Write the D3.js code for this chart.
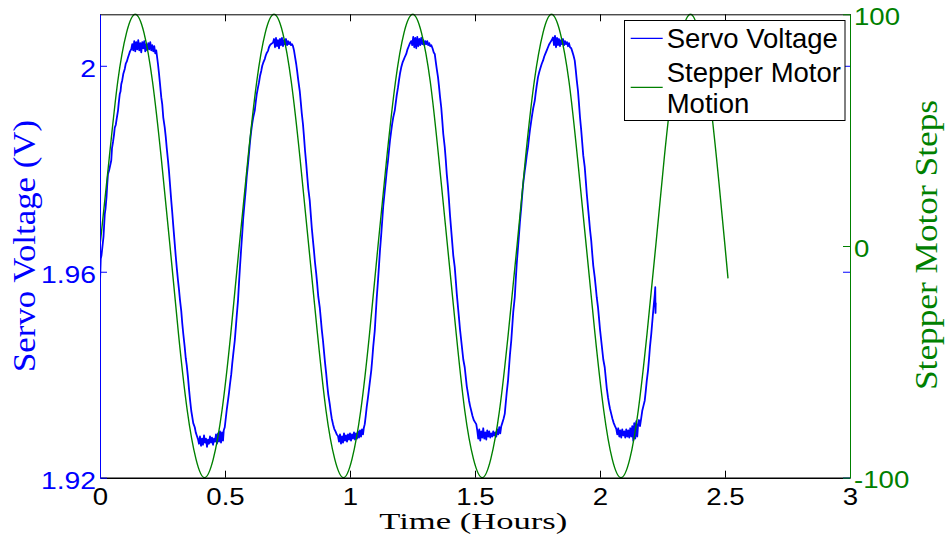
<!DOCTYPE html>
<html>
<head>
<meta charset="utf-8">
<script src="https://cdn.jsdelivr.net/npm/d3@7"></script>
<style>
  body { margin: 0; background: #fff; }
  svg { display: block; }
</style>
</head>
<body>
<div id="chart"></div>
<script>
var WIDTH = 946
var HEIGHT = 545

// axis ranges and ticks
var hoursDomain = [0, 3]
var voltDomain = [1.92, 2.01]
var stepDomain = [-100, 100]
var hourTicks = [0, 0.5, 1, 1.5, 2, 2.5, 3]
var voltTicks = [1.92, 1.96, 2]
var stepTicks = [-100, 0, 100]

var legendLabels = [["Servo Voltage"], ["Stepper Motor", "Motion"]]

// [hours, volts]
var servo = [
  [0, 1.9580], [0.003, 1.9625], [0.006, 1.9632], [0.010, 1.9650], [0.014, 1.9668], [0.019, 1.9712], [0.022, 1.9722],
  [0.026, 1.9745], [0.029, 1.9770], [0.032, 1.9790], [0.036, 1.9796], [0.040, 1.9805], [0.045, 1.9816], [0.048, 1.9840],
  [0.052, 1.9852], [0.056, 1.9866], [0.059, 1.9880], [0.063, 1.9885], [0.067, 1.9898], [0.072, 1.9913], [0.075, 1.9928],
  [0.079, 1.9945], [0.082, 1.9950], [0.085, 1.9964], [0.089, 1.9972], [0.093, 1.9984], [0.099, 1.9994], [0.103, 2.0004],
  [0.107, 2.0008], [0.112, 2.0016], [0.116, 2.0022], [0.120, 2.0028], [0.125, 2.0032],
  [0.129, 2.0042], [0.133, 2.0030], [0.137, 2.0048], [0.141, 2.0028], [0.145, 2.0046], [0.149, 2.0032], [0.153, 2.0050],
  [0.157, 2.0030], [0.161, 2.0044], [0.165, 2.0026], [0.169, 2.0046], [0.173, 2.0034], [0.177, 2.0048], [0.181, 2.0028],
  [0.185, 2.0042], [0.189, 2.0030], [0.193, 2.0044], [0.197, 2.0032], [0.201, 2.0046], [0.205, 2.0030], [0.209, 2.0040],
  [0.213, 2.0028], [0.217, 2.0038], [0.221, 2.0024], [0.225, 2.0030],
  [0.232, 2.0003], [0.236, 1.9985], [0.240, 1.9965], [0.245, 1.9939], [0.249, 1.9925], [0.253, 1.9900], [0.259, 1.9880],
  [0.263, 1.9862], [0.267, 1.9840], [0.272, 1.9816], [0.276, 1.9795], [0.280, 1.9770], [0.285, 1.9738], [0.289, 1.9715],
  [0.293, 1.9690], [0.299, 1.9654], [0.303, 1.9630], [0.307, 1.9608], [0.312, 1.9583], [0.316, 1.9565], [0.320, 1.9545],
  [0.325, 1.9524], [0.329, 1.9500], [0.333, 1.9480], [0.339, 1.9453], [0.343, 1.9432], [0.347, 1.9418], [0.352, 1.9395],
  [0.356, 1.9372], [0.360, 1.9352], [0.365, 1.9330], [0.369, 1.9318], [0.373, 1.9306], [0.379, 1.9298], [0.383, 1.9288],
  [0.387, 1.9282], [0.392, 1.9275],
  [0.396, 1.9266], [0.400, 1.9280], [0.404, 1.9262], [0.408, 1.9276], [0.412, 1.9264], [0.416, 1.9282], [0.420, 1.9268],
  [0.424, 1.9276], [0.428, 1.9260], [0.432, 1.9274], [0.436, 1.9266], [0.440, 1.9280], [0.444, 1.9268], [0.448, 1.9278],
  [0.452, 1.9264], [0.456, 1.9276], [0.460, 1.9270], [0.464, 1.9284], [0.468, 1.9266], [0.472, 1.9286], [0.476, 1.9270],
  [0.480, 1.9290], [0.484, 1.9268], [0.488, 1.9288], [0.492, 1.9272], [0.495, 1.9292],
  [0.499, 1.9298], [0.503, 1.9315], [0.507, 1.9332], [0.512, 1.9350], [0.516, 1.9365], [0.520, 1.9382], [0.525, 1.9401],
  [0.529, 1.9422], [0.533, 1.9440], [0.539, 1.9466], [0.543, 1.9490], [0.547, 1.9515], [0.552, 1.9544], [0.556, 1.9578],
  [0.560, 1.9610], [0.565, 1.9647], [0.569, 1.9675], [0.573, 1.9705], [0.579, 1.9738], [0.583, 1.9760], [0.587, 1.9785],
  [0.592, 1.9809], [0.596, 1.9830], [0.600, 1.9852], [0.605, 1.9874], [0.609, 1.9888], [0.613, 1.9900], [0.619, 1.9913],
  [0.623, 1.9930], [0.627, 1.9945], [0.632, 1.9958], [0.636, 1.9968], [0.640, 1.9980], [0.645, 1.9990], [0.649, 2.0000],
  [0.653, 2.0006], [0.659, 2.0013], [0.663, 2.0020], [0.667, 2.0025], [0.672, 2.0029], [0.676, 2.0036], [0.680, 2.0040],
  [0.686, 2.0043], [0.692, 2.0045],
  [0.696, 2.0052], [0.700, 2.0036], [0.704, 2.0054], [0.708, 2.0038], [0.712, 2.0050], [0.716, 2.0034], [0.720, 2.0052],
  [0.724, 2.0040], [0.728, 2.0054], [0.732, 2.0038], [0.736, 2.0050], [0.740, 2.0042], [0.744, 2.0052], [0.748, 2.0040],
  [0.752, 2.0048], [0.756, 2.0042], [0.760, 2.0046], [0.764, 2.0040], [0.768, 2.0042], [0.772, 2.0038],
  [0.776, 2.0030], [0.780, 2.0018], [0.785, 2.0003], [0.789, 1.9988], [0.793, 1.9972], [0.799, 1.9951], [0.803, 1.9930],
  [0.807, 1.9908], [0.812, 1.9886], [0.816, 1.9862], [0.820, 1.9836], [0.825, 1.9809], [0.829, 1.9785], [0.833, 1.9762],
  [0.839, 1.9738], [0.843, 1.9712], [0.847, 1.9686], [0.852, 1.9660], [0.856, 1.9640], [0.860, 1.9618], [0.865, 1.9596],
  [0.869, 1.9575], [0.873, 1.9552], [0.879, 1.9531], [0.883, 1.9510], [0.887, 1.9488], [0.892, 1.9466], [0.896, 1.9445],
  [0.900, 1.9424], [0.905, 1.9401], [0.909, 1.9380], [0.913, 1.9362], [0.919, 1.9343], [0.923, 1.9328], [0.927, 1.9315],
  [0.932, 1.9304], [0.937, 1.9295], [0.942, 1.9290], [0.947, 1.9284], [0.952, 1.9281],
  [0.956, 1.9270], [0.960, 1.9284], [0.964, 1.9266], [0.968, 1.9280], [0.972, 1.9268], [0.976, 1.9286], [0.980, 1.9272],
  [0.984, 1.9282], [0.988, 1.9270], [0.992, 1.9284], [0.996, 1.9274], [1.000, 1.9286], [1.004, 1.9272], [1.008, 1.9284],
  [1.012, 1.9276], [1.016, 1.9288], [1.020, 1.9274], [1.024, 1.9286], [1.028, 1.9276], [1.032, 1.9290], [1.036, 1.9278],
  [1.040, 1.9292], [1.044, 1.9280], [1.048, 1.9294], [1.052, 1.9284], [1.055, 1.9296],
  [1.059, 1.9304], [1.063, 1.9320], [1.067, 1.9338], [1.072, 1.9356], [1.076, 1.9372], [1.080, 1.9388], [1.085, 1.9408],
  [1.089, 1.9430], [1.093, 1.9455], [1.099, 1.9485], [1.103, 1.9518], [1.107, 1.9550], [1.112, 1.9583], [1.116, 1.9612],
  [1.120, 1.9642], [1.125, 1.9673], [1.129, 1.9700], [1.133, 1.9728], [1.139, 1.9757], [1.143, 1.9776], [1.147, 1.9796],
  [1.152, 1.9816], [1.156, 1.9836], [1.160, 1.9855], [1.165, 1.9874], [1.169, 1.9888], [1.173, 1.9900], [1.179, 1.9913],
  [1.183, 1.9928], [1.187, 1.9943], [1.192, 1.9958], [1.196, 1.9972], [1.200, 1.9985], [1.205, 1.9997], [1.210, 2.0006],
  [1.215, 2.0012], [1.220, 2.0018], [1.225, 2.0023], [1.230, 2.0032], [1.235, 2.0038], [1.240, 2.0044], [1.245, 2.0048],
  [1.249, 2.0040], [1.253, 2.0056], [1.257, 2.0036], [1.261, 2.0054], [1.265, 2.0034], [1.269, 2.0056], [1.273, 2.0038],
  [1.277, 2.0052], [1.281, 2.0040], [1.285, 2.0054], [1.289, 2.0042], [1.293, 2.0050], [1.297, 2.0040], [1.301, 2.0048],
  [1.305, 2.0042], [1.309, 2.0048], [1.313, 2.0040], [1.317, 2.0044], [1.321, 2.0038], [1.325, 2.0040], [1.330, 2.0034],
  [1.335, 2.0026], [1.339, 2.0023], [1.343, 2.0008], [1.347, 1.9994], [1.352, 1.9978], [1.356, 1.9960], [1.360, 1.9940],
  [1.365, 1.9919], [1.369, 1.9894], [1.373, 1.9868], [1.379, 1.9842], [1.383, 1.9818], [1.387, 1.9790], [1.392, 1.9764],
  [1.396, 1.9738], [1.400, 1.9710], [1.405, 1.9680], [1.409, 1.9656], [1.413, 1.9632], [1.419, 1.9609], [1.423, 1.9584],
  [1.427, 1.9558], [1.432, 1.9531], [1.436, 1.9510], [1.440, 1.9488], [1.445, 1.9466], [1.449, 1.9448], [1.453, 1.9430],
  [1.459, 1.9414], [1.463, 1.9396], [1.467, 1.9378], [1.472, 1.9363], [1.476, 1.9350], [1.480, 1.9340], [1.485, 1.9330],
  [1.490, 1.9320], [1.495, 1.9312], [1.500, 1.9308], [1.505, 1.9304],
  [1.509, 1.9292], [1.513, 1.9276], [1.517, 1.9294], [1.521, 1.9272], [1.525, 1.9290], [1.529, 1.9278], [1.533, 1.9296],
  [1.537, 1.9276], [1.541, 1.9288], [1.545, 1.9274], [1.549, 1.9292], [1.553, 1.9280], [1.557, 1.9290], [1.561, 1.9278],
  [1.565, 1.9286], [1.569, 1.9280], [1.573, 1.9290], [1.577, 1.9282], [1.581, 1.9288], [1.585, 1.9280], [1.589, 1.9294],
  [1.593, 1.9284], [1.597, 1.9298], [1.601, 1.9286], [1.605, 1.9300],
  [1.609, 1.9306], [1.614, 1.9314], [1.619, 1.9324], [1.623, 1.9345], [1.627, 1.9366], [1.632, 1.9388], [1.636, 1.9414],
  [1.640, 1.9440], [1.645, 1.9466], [1.649, 1.9494], [1.653, 1.9522], [1.659, 1.9550], [1.663, 1.9584], [1.667, 1.9616],
  [1.672, 1.9647], [1.676, 1.9672], [1.680, 1.9698], [1.685, 1.9725], [1.689, 1.9750], [1.693, 1.9772], [1.699, 1.9796],
  [1.703, 1.9810], [1.707, 1.9826], [1.712, 1.9842], [1.716, 1.9860], [1.720, 1.9876], [1.725, 1.9893], [1.729, 1.9906],
  [1.733, 1.9918], [1.739, 1.9932], [1.743, 1.9948], [1.747, 1.9962], [1.752, 1.9978], [1.757, 1.9988], [1.762, 1.9996],
  [1.767, 2.0004], [1.772, 2.0010], [1.777, 2.0018], [1.782, 2.0024], [1.787, 2.0030], [1.792, 2.0036], [1.797, 2.0042],
  [1.802, 2.0046], [1.807, 2.0050], [1.812, 2.0055],
  [1.816, 2.0040], [1.820, 2.0058], [1.824, 2.0036], [1.828, 2.0054], [1.832, 2.0040], [1.836, 2.0052], [1.840, 2.0038],
  [1.844, 2.0050], [1.848, 2.0042], [1.852, 2.0052], [1.856, 2.0040], [1.860, 2.0048], [1.864, 2.0042], [1.868, 2.0046],
  [1.872, 2.0038], [1.876, 2.0044], [1.880, 2.0036], [1.885, 2.0034],
  [1.889, 2.0028], [1.894, 2.0020], [1.899, 2.0010], [1.903, 1.9992], [1.907, 1.9972], [1.912, 1.9951], [1.916, 1.9926],
  [1.920, 1.9900], [1.925, 1.9874], [1.929, 1.9850], [1.933, 1.9826], [1.939, 1.9803], [1.943, 1.9778], [1.947, 1.9752],
  [1.952, 1.9725], [1.956, 1.9704], [1.960, 1.9682], [1.965, 1.9660], [1.969, 1.9635], [1.973, 1.9612], [1.979, 1.9589],
  [1.983, 1.9570], [1.987, 1.9550], [1.992, 1.9531], [1.996, 1.9510], [2.000, 1.9488], [2.005, 1.9466], [2.009, 1.9448],
  [2.013, 1.9430], [2.019, 1.9414], [2.023, 1.9394], [2.027, 1.9374], [2.032, 1.9356], [2.036, 1.9344], [2.040, 1.9334],
  [2.045, 1.9324], [2.050, 1.9314], [2.055, 1.9306], [2.060, 1.9300], [2.065, 1.9295],
  [2.069, 1.9284], [2.073, 1.9296], [2.077, 1.9280], [2.081, 1.9292], [2.085, 1.9278], [2.089, 1.9294], [2.093, 1.9282],
  [2.097, 1.9290], [2.101, 1.9278], [2.105, 1.9294], [2.109, 1.9280], [2.113, 1.9292], [2.117, 1.9278], [2.121, 1.9296],
  [2.125, 1.9280], [2.129, 1.9300], [2.133, 1.9272], [2.137, 1.9306], [2.141, 1.9276], [2.145, 1.9310], [2.149, 1.9280],
  [2.152, 1.9300],
  [2.156, 1.9312], [2.160, 1.9300], [2.165, 1.9316], [2.169, 1.9330], [2.174, 1.9340], [2.179, 1.9350], [2.183, 1.9368],
  [2.187, 1.9388], [2.192, 1.9408], [2.196, 1.9430], [2.200, 1.9455], [2.205, 1.9479], [2.209, 1.9502], [2.214, 1.9530],
  [2.219, 1.9555], [2.221, 1.9570], [2.222, 1.9520], [2.223, 1.9540]
]

// [hours, steps]
var stepper = [
  [0, 0], [0.037, 38], [0.071, 71], [0.106, 92], [0.141, 100], [0.176, 92], [0.210, 71], [0.245, 38],
  [0.280, 0], [0.314, -38], [0.349, -71], [0.384, -92], [0.418, -100], [0.453, -92], [0.488, -71], [0.523, -38],
  [0.557, 0], [0.592, 38], [0.627, 71], [0.661, 92], [0.696, 100], [0.731, 92], [0.765, 71], [0.800, 38],
  [0.835, 0], [0.870, -38], [0.904, -71], [0.939, -92], [0.974, -100], [1.008, -92], [1.043, -71], [1.078, -38],
  [1.112, 0], [1.147, 38], [1.182, 71], [1.216, 92], [1.251, 100], [1.286, 92], [1.321, 71], [1.355, 38],
  [1.390, 0], [1.425, -38], [1.459, -71], [1.494, -92], [1.529, -100], [1.563, -92], [1.598, -71], [1.633, -38],
  [1.668, 0], [1.702, 38], [1.737, 71], [1.772, 92], [1.806, 100], [1.841, 92], [1.876, 71], [1.910, 38],
  [1.945, 0], [1.980, -38], [2.015, -71], [2.049, -92], [2.084, -100], [2.119, -92], [2.153, -71], [2.188, -38],
  [2.223, 0], [2.257, 38], [2.292, 71], [2.327, 92], [2.362, 100], [2.396, 92], [2.431, 71], [2.466, 38],
  [2.500, 0], [2.512, -14]
]

var BLUE = "#0000ff"
var GREEN = "#008000"
var plotLeft = 100, plotRight = 850, plotTop = 14.3, plotBottom = 477.7
var sans = "'Liberation Sans', Arial, sans-serif"
var serif = "'Liberation Serif', 'Times New Roman', serif"

var svg = d3.select("#chart").append("svg")
    .attr("width", WIDTH)
    .attr("height", HEIGHT)

svg.append("rect").attr("width", WIDTH).attr("height", HEIGHT).attr("fill", "#fff")

var x = d3.scaleLinear().domain(hoursDomain).range([plotLeft, plotRight])
var yV = d3.scaleLinear().domain(voltDomain).range([plotBottom, plotTop])
var yS = d3.scaleLinear().domain(stepDomain).range([plotBottom, plotTop])

svg.append("clipPath").attr("id", "plot")
  .append("rect").attr("x", plotLeft).attr("y", plotTop - 1)
  .attr("width", plotRight - plotLeft).attr("height", plotBottom - plotTop + 2)

var servoLine = d3.line()
    .x(function(d){ return x(d[0]) })
    .y(function(d){ return yV(d[1]) })

var stepLine = d3.line()
    .x(function(d){ return x(d[0]) })
    .y(function(d){ return yS(d[1]) })
    .curve(d3.curveNatural)

svg.append("path").datum(servo)
    .attr("d", servoLine)
    .attr("fill", "none").attr("stroke", BLUE).attr("stroke-width", 1.8)
    .attr("stroke-linejoin", "round")
    .attr("clip-path", "url(#plot)")

svg.append("path").datum(stepper)
    .attr("d", stepLine)
    .attr("fill", "none").attr("stroke", GREEN).attr("stroke-width", 1.4)
    .attr("clip-path", "url(#plot)")

// stretch tick labels a little wider, like the figure
function widen(sel, k){
    sel.selectAll("text").each(function(){
        var w = this.getComputedTextLength()
        d3.select(this).attr("textLength", w * k).attr("lengthAdjust", "spacingAndGlyphs")
    })
}

function styleAxis(g, color){
    g.attr("font-family", sans).attr("font-size", 24)
    g.selectAll("line").attr("stroke", color)
    g.selectAll("path.domain").attr("stroke", color)
    g.selectAll("text").attr("fill", color)
}

// top edge (ticks only)
var gTop = svg.append("g").attr("transform", "translate(0," + plotTop + ")")
    .call(d3.axisTop(x).tickValues(hourTicks).tickSize(-7).tickSizeOuter(0).tickFormat(""))
styleAxis(gTop, "#000")

// bottom axis
var gBottom = svg.append("g").attr("transform", "translate(0," + plotBottom + ")")
    .call(d3.axisBottom(x).tickValues(hourTicks).tickSize(-7).tickSizeOuter(0).tickPadding(10)
      .tickFormat(function(d){ return String(d) }))
styleAxis(gBottom, "#000")
gBottom.select("path.domain").attr("stroke-width", 1.5)
gBottom.selectAll(".tick text").attr("dy", "0.71em")
widen(gBottom, 1.15)

// mirrored voltage ticks on the right edge
var gVr = svg.append("g").attr("transform", "translate(" + plotRight + ",0)")
    .call(d3.axisRight(yV).tickValues(voltTicks).tickSize(-7).tickSizeOuter(0).tickFormat(""))
styleAxis(gVr, BLUE)
gVr.select("path.domain").remove()

// left voltage axis
var gLeft = svg.append("g").attr("transform", "translate(" + plotLeft + ",0)")
    .call(d3.axisLeft(yV).tickValues(voltTicks).tickSize(-7).tickSizeOuter(0).tickPadding(4)
      .tickFormat(function(d){ return String(d) }))
styleAxis(gLeft, BLUE)
gLeft.selectAll(".tick text").attr("dy", "0.44em")
widen(gLeft, 1.18)

// right step axis
var gRight = svg.append("g").attr("transform", "translate(" + plotRight + ",0)")
    .call(d3.axisRight(yS).tickValues(stepTicks).tickSize(-7).tickSizeOuter(0).tickPadding(4)
      .tickFormat(function(d){ return String(d) }))
styleAxis(gRight, GREEN)
gRight.selectAll(".tick text").attr("dy", "0.42em")
widen(gRight, 1.15)

// axis titles
svg.append("text")
    .attr("x", 473.3).attr("y", 529.3)
    .attr("text-anchor", "middle")
    .attr("font-family", serif).attr("font-size", 24)
    .attr("textLength", 188).attr("lengthAdjust", "spacingAndGlyphs")
    .text("Time (Hours)")

svg.append("text")
    .attr("transform", "translate(35,246) rotate(-90)")
    .attr("text-anchor", "middle")
    .attr("font-family", serif).attr("font-size", 32)
    .attr("fill", BLUE)
    .attr("textLength", 252).attr("lengthAdjust", "spacingAndGlyphs")
    .text("Servo Voltage (V)")

svg.append("text")
    .attr("transform", "translate(937,245) rotate(-90)")
    .attr("text-anchor", "middle")
    .attr("font-family", serif).attr("font-size", 32)
    .attr("fill", GREEN)
    .attr("textLength", 290).attr("lengthAdjust", "spacingAndGlyphs")
    .text("Stepper Motor Steps")

// legend
var legend = svg.append("g")
legend.append("rect")
    .attr("x", 624.5).attr("y", 20.5).attr("width", 220.5).attr("height", 100)
    .attr("fill", "#fff").attr("stroke", "#000").attr("stroke-width", 1)

var legendColors = [BLUE, GREEN]
var legendLineY = [38.3, 87.3]
var legendTextY = [[48.3], [81.7, 113.3]]

legendLabels.forEach(function(lines, i){
    legend.append("line")
        .attr("x1", 630.7).attr("x2", 662.7)
        .attr("y1", legendLineY[i]).attr("y2", legendLineY[i])
        .attr("stroke", legendColors[i]).attr("stroke-width", 1.2)
    lines.forEach(function(t, j){
        legend.append("text")
            .attr("x", 666.7).attr("y", legendTextY[i][j])
            .attr("font-family", sans).attr("font-size", 27.5)
            .attr("fill", "#000")
            .text(t)
    })
})
</script>
</body>
</html>
